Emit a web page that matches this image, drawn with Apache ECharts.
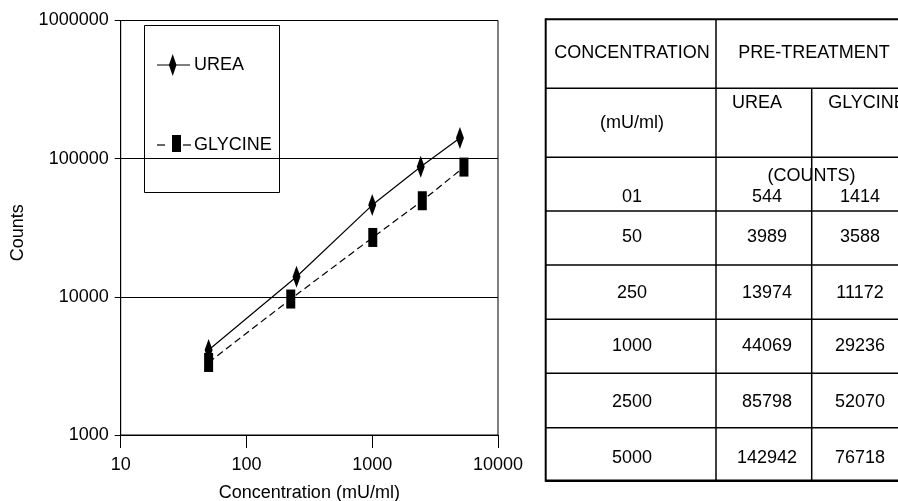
<!DOCTYPE html>
<html>
<head>
<meta charset="utf-8">
<script src="https://cdn.jsdelivr.net/npm/echarts@6/dist/echarts.min.js"></script>
<style>
  html, body { margin: 0; padding: 0; background: #fff; }
  #main { width: 898px; height: 501px; }
</style>
</head>
<body>
<div id="main"></div>
<script>
// values
var ureaConc = [50, 250, 1000, 2430, 4980];
var ureaCounts = [4120, 13980, 46150, 87400, 140900];
var glyConc = [50, 225, 1010, 2500, 5360];
var glyCounts = [3350, 9640, 26900, 49600, 86900];

// table text
var tableConc = ['01', '50', '250', '1000', '2500', '5000'];
var tableUrea = ['544', '3989', '13974', '44069', '85798', '142942'];
var tableGlycine = ['1414', '3588', '11172', '29236', '52070', '76718'];

var FONT = '18px "Liberation Sans", Arial, sans-serif';

function pairs(xs, ys) {
  return xs.map(function (x, i) { return [x, ys[i]]; });
}

function txt(s, x, y, align) {
  return {
    type: 'text', silent: true, z: 10,
    style: {
      text: s, x: x, y: y, font: FONT, fill: '#000',
      align: align || 'center', verticalAlign: 'middle',
      textAlign: align || 'center', textVerticalAlign: 'middle'
    }
  };
}
function ln(x1, y1, x2, y2, w, dash) {
  return {
    type: 'line', silent: true, z: 5,
    shape: { x1: x1, y1: y1, x2: x2, y2: y2 },
    style: { stroke: '#000', lineWidth: w || 1, lineDash: dash || null }
  };
}

var els = [];

// legend box (drawn by hand so the tall markers match)
els.push({
  type: 'rect', silent: true, z: 5,
  shape: { x: 144.5, y: 25.5, width: 135, height: 167 },
  style: { fill: 'none', stroke: '#000', lineWidth: 1 }
});
els.push(ln(157, 65, 190, 65, 1.2));
els.push({
  type: 'polygon', silent: true, z: 6,
  shape: { points: [[172.7, 54], [176.5, 65], [172.7, 76], [168.9, 65]] },
  style: { fill: '#000' }
});
els.push(txt('UREA', 194, 65, 'left'));
els.push(ln(157, 145, 165, 145, 1.2));
els.push(ln(183, 145, 191, 145, 1.2));
els.push({
  type: 'rect', silent: true, z: 6,
  shape: { x: 172, y: 135, width: 9, height: 17 },
  style: { fill: '#000' }
});
els.push(txt('GLYCINE', 194, 145, 'left'));

// table grid
var tL = 545.7, tR = 910, tT = 19.3, tB = 480.7;
var c1 = 716, c2 = 811.7;
var rowLines = [88.3, 157.3, 211, 265, 319.3, 373.3, 427.7];
els.push(ln(tL, tT, tR, tT, 2));
els.push(ln(tL, tB, tR, tB, 2.5));
els.push(ln(tL, tT - 1, tL, tB + 1, 2));
els.push(ln(c1, tT, c1, tB, 1.5));
els.push(ln(c2, rowLines[0], c2, tB, 1.5));
rowLines.forEach(function (y) { els.push(ln(tL, y, tR, y, 1.5)); });

// table header
els.push(txt('CONCENTRATION', 632, 52.7));
els.push(txt('PRE-TREATMENT', 814, 52.7));
els.push(txt('(mU/ml)', 632, 123.3));
els.push(txt('UREA', 757, 103.3));
els.push(txt('GLYCINE', 867, 103.3));
els.push(txt('(COUNTS)', 811.5, 175.7));

// table body
var rowY = [197.3, 237.5, 293.3, 346, 401.7, 458.3];
tableConc.forEach(function (c, i) {
  els.push(txt(c, 632, rowY[i]));
  els.push(txt(tableUrea[i], 767, rowY[i]));
  els.push(txt(tableGlycine[i], 860, rowY[i]));
});

var chart = echarts.init(document.getElementById('main'), null, { renderer: 'canvas' });
var option = {
  backgroundColor: '#fff',
  animation: false,
  textStyle: { fontFamily: '"Liberation Sans", Arial, sans-serif' },
  grid: {
    show: true,
    left: 120.7, right: 400, top: 20.5, bottom: 66,
    borderColor: '#000', borderWidth: 1,
    containLabel: false,
    outerBoundsMode: 'none'
  },
  xAxis: {
    type: 'log', logBase: 10, min: 10, max: 10000,
    name: 'Concentration (mU/ml)',
    nameLocation: 'middle', nameGap: 49,
    nameTextStyle: { color: '#000', fontSize: 18 },
    axisLine: { lineStyle: { color: '#000', width: 1 } },
    axisTick: { show: true, length: 13, lineStyle: { color: '#000' } },
    minorTick: { show: false },
    axisLabel: {
      color: '#000', fontSize: 18, margin: 21,
      formatter: function (v) { return String(Math.round(v)); }
    },
    splitLine: { show: false }
  },
  yAxis: {
    type: 'log', logBase: 10, min: 1000, max: 1000000,
    name: 'Counts',
    nameLocation: 'middle', nameGap: 94,
    nameTextStyle: { color: '#000', fontSize: 18, padding: [0, 10, 0, 0] },
    axisLine: { lineStyle: { color: '#000', width: 1 } },
    axisTick: { show: true, length: 6, lineStyle: { color: '#000' } },
    axisLabel: {
      color: '#000', fontSize: 18, margin: 12,
      formatter: function (v) { return String(Math.round(v)); }
    },
    splitLine: { show: true, lineStyle: { color: '#000', width: 1 } }
  },
  series: [
    {
      name: 'UREA', type: 'line',
      data: pairs(ureaConc, ureaCounts),
      symbol: 'diamond', symbolSize: [8, 22],
      itemStyle: { color: '#000' },
      lineStyle: { color: '#000', width: 1.2, type: 'solid' },
      z: 3
    },
    {
      name: 'GLYCINE', type: 'line',
      data: pairs(glyConc, glyCounts),
      symbol: 'rect', symbolSize: [9, 19],
      itemStyle: { color: '#000' },
      lineStyle: { color: '#000', width: 1.2, type: [7, 4] },
      z: 4
    }
  ],
  graphic: { elements: els }
};
chart.setOption(option);
</script>
</body>
</html>
